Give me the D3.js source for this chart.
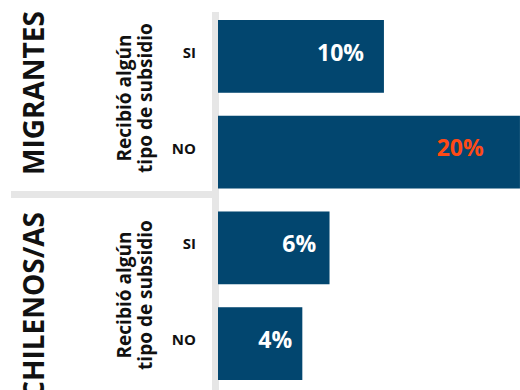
<!DOCTYPE html>
<html>
<head>
<meta charset="utf-8">
<script src="https://cdn.jsdelivr.net/npm/d3@7"></script>
<style>
  html, body { margin: 0; padding: 0; background: #ffffff; }
  svg { display: block; }
  text { font-family: "Open Sans", "Noto Sans", sans-serif; font-weight: 700; }
</style>
</head>
<body>
<svg id="chart" width="520" height="390"></svg>
<script>
// Share of respondents who received some kind of subsidy, by group
const groups = ["MIGRANTES", "CHILENOS/AS"];
const questionLabel = ["Recibió algún", "tipo de subsidio"];
const answers = ["SI", "NO"];
const rowGroup = ["MIGRANTES", "MIGRANTES", "CHILENOS/AS", "CHILENOS/AS"];
const rowAnswer = ["SI", "NO", "SI", "NO"];
const values = [10, 20, 6, 4];
const valueLabels = ["10%", "20%", "6%", "4%"];
const highlight = [false, true, false, false];

const rows = values.map((v, i) => ({
  key: rowGroup[i] + "|" + rowAnswer[i],
  group: rowGroup[i],
  answer: rowAnswer[i],
  value: v,
  label: valueLabels[i],
  hot: highlight[i]
}));

const W = 520, H = 390;
const svg = d3.select("#chart");

const BAR_COLOR = "#02466f";
const HOT_COLOR = "#ff4a16";
const RULE_COLOR = "#e6e6e6";
const INK = "#111111";

// bars start a little before zero so that the short ones still hold their label
const BASE = -2.2;
const x = d3.scaleLinear().domain([BASE, 20.1]).range([218, 521.3]);
const y = d3.scaleBand().domain(rows.map(d => d.key)).range([20, 380])
  .paddingInner(0.24).paddingOuter(0);

// group panels on the left: [top, bottom, label centre]
const panel = d3.scaleOrdinal().domain(groups).range([[12, 191, 98], [198, 430, 295]]);

// vertical separator between labels and bars
svg.append("rect")
  .attr("x", 212).attr("y", 12)
  .attr("width", 7).attr("height", H - 12)
  .attr("fill", RULE_COLOR);

// horizontal separator between the two groups
svg.append("rect")
  .attr("x", 11).attr("y", 191)
  .attr("width", 201).attr("height", 7)
  .attr("fill", RULE_COLOR);

// bars
svg.append("g").selectAll("rect")
  .data(rows)
  .join("rect")
  .attr("x", x(BASE))
  .attr("y", d => y(d.key))
  .attr("width", d => x(d.value) - x(BASE))
  .attr("height", y.bandwidth())
  .attr("fill", BAR_COLOR);

// value labels inside bars
svg.append("g").selectAll("text")
  .data(rows)
  .join("text")
  .attr("x", d => x(BASE) + 0.88 * (x(d.value) - x(BASE)))
  .attr("y", d => y(d.key) + y.bandwidth() / 2)
  .attr("dy", "0.18em")
  .attr("text-anchor", "end")
  .attr("font-size", 23)
  .attr("fill", d => d.hot ? HOT_COLOR : "#ffffff")
  .text(d => d.label);

// SI / NO row labels
svg.append("g").selectAll("text")
  .data(rows)
  .join("text")
  .attr("x", 196)
  .attr("y", d => y(d.key) + y.bandwidth() / 2)
  .attr("dy", "0.1em")
  .attr("text-anchor", "end")
  .attr("font-size", 15)
  .attr("fill", INK)
  .text(d => d.answer);

// rotated question label per group
groups.forEach(g => {
  const cy = panel(g)[2];
  const t = svg.append("text")
    .attr("transform", `translate(131,${cy}) rotate(-90)`)
    .attr("text-anchor", "middle")
    .attr("font-size", 19)
    .attr("fill", INK);
  questionLabel.forEach((line, i) => {
    t.append("tspan").attr("x", 0).attr("dy", i === 0 ? 0 : "1.1em").text(line);
  });
});

// rotated group titles
svg.append("text")
  .attr("transform", `translate(44,93) rotate(-90)`)
  .attr("text-anchor", "middle")
  .attr("font-size", 28)
  .attr("fill", INK)
  .text(groups[0]);

svg.append("text")
  .attr("transform", `translate(44,${panel(groups[1])[0] + 14}) rotate(-90)`)
  .attr("text-anchor", "end")
  .attr("font-size", 28)
  .attr("fill", INK)
  .text(groups[1]);
</script>
</body>
</html>
